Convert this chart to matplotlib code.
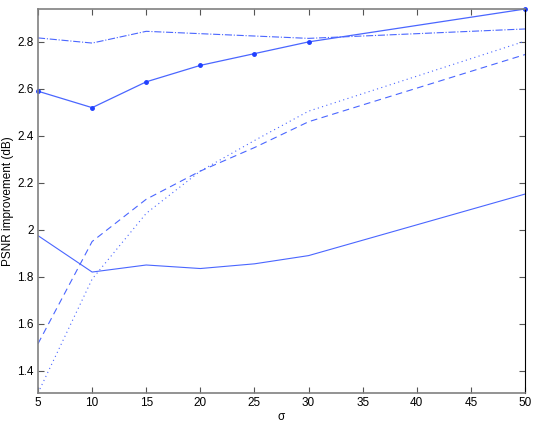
import matplotlib.pyplot as plt
from matplotlib.ticker import FormatStrFormatter

plt.rcParams['font.family'] = ['Liberation Sans', 'DejaVu Sans']

sigma = [5, 10, 15, 20, 25, 30, 50]

# five curves
marked = [2.59, 2.52, 2.63, 2.70, 2.75, 2.80, 2.94]
dashdot = [2.817, 2.795, 2.845, 2.835, 2.825, 2.815, 2.855]
dashed = [1.515, 1.95, 2.13, 2.25, 2.35, 2.46, 2.746]
dotted = [1.305, 1.79, 2.07, 2.25, 2.38, 2.505, 2.803]
plain = [1.975, 1.82, 1.85, 1.835, 1.855, 1.89, 2.152]

col = '#4a66ff'

fig = plt.figure(figsize=(5.4, 4.25), dpi=100)
ax = fig.add_axes([0.0704, 0.0753, 0.9018, 0.9035])

ax.plot(sigma, marked, '-', color=col, lw=0.9, marker='.', ms=5, mfc='#2040ff', mec='#2040ff', clip_on=False)
ax.plot(sigma, dashdot, '-.', color=col, lw=0.8)
ax.plot(sigma, dashed, '--', color=col, lw=0.8, dashes=(6, 4))
ax.plot(sigma, dotted, color=col, lw=0.8, dashes=(1, 3))
ax.plot(sigma, plain, '-', color=col, lw=0.8)

ax.set_xlim(5, 50)
ax.set_ylim(1.305, 2.94)
ax.set_xticks(range(5, 51, 5))
ax.set_yticks([1.4, 1.6, 1.8, 2.0, 2.2, 2.4, 2.6, 2.8])
ax.yaxis.set_major_formatter(FormatStrFormatter('%g'))
ax.tick_params(direction='in', top=True, right=True, labelsize=8.5, length=4,
               color='#555555', pad=3)

for s in ['left', 'bottom', 'top']:
    ax.spines[s].set_color('#808080')
    ax.spines[s].set_linewidth(1.2)
ax.spines['right'].set_color('black')

ax.set_xlabel('σ', fontsize=8.5, labelpad=1)
ax.set_ylabel('PSNR improvement (dB)', fontsize=8.5)
ax.yaxis.set_label_coords(-0.05, 0.5)

fig.savefig('out.png', dpi=100)
